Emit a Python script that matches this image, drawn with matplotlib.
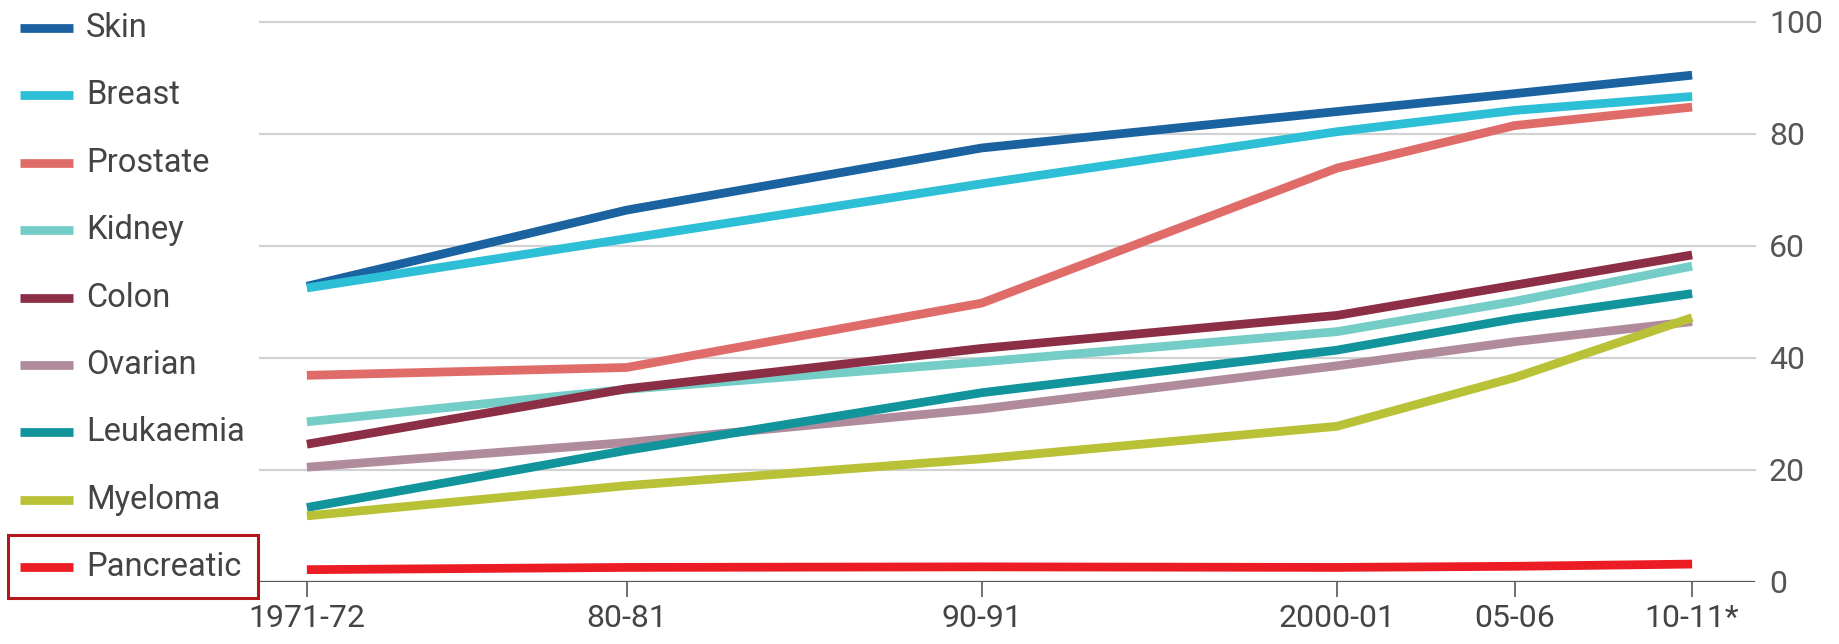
import matplotlib
matplotlib.use('Agg')
import matplotlib.pyplot as plt
from matplotlib.lines import Line2D
from matplotlib.patches import Rectangle

plt.rcParams['font.family'] = ['Roboto', 'DejaVu Sans']

# survival rates (%) by period of diagnosis
years = [1971, 1980, 1990, 2000, 2005, 2010]
period_labels = ['1971-72', '80-81', '90-91', '2000-01', '05-06', '10-11*']

cancers = ['Skin', 'Breast', 'Prostate', 'Kidney', 'Colon',
           'Ovarian', 'Leukaemia', 'Myeloma', 'Pancreatic']
skin = [52.8, 66.4, 77.5, 84.0, 87.2, 90.5]
breast = [52.5, 61.3, 71.1, 80.4, 84.2, 86.7]
prostate = [36.9, 38.3, 49.8, 73.9, 81.5, 84.8]
kidney = [28.6, 34.4, 39.3, 44.7, 50.1, 56.4]
colon = [24.6, 34.5, 41.7, 47.6, 53.0, 58.4]
ovarian = [20.5, 24.9, 30.9, 38.6, 42.9, 46.5]
leukaemia = [13.3, 23.5, 33.8, 41.4, 47.0, 51.5]
myeloma = [11.8, 17.2, 22.0, 27.8, 36.5, 47.2]
pancreatic = [2.2, 2.6, 2.7, 2.6, 2.8, 3.2]
series = [skin, breast, prostate, kidney, colon,
          ovarian, leukaemia, myeloma, pancreatic]

colors = ['#1b62a0', '#2cbfd6', '#e06c6a', '#74cdc6', '#8c2f46',
          '#b08b9b', '#12949d', '#b9c136', '#ec1c24']

fig = plt.figure(figsize=(18.4, 6.44), dpi=100)
ax = fig.add_axes([0.1413, 0.0963, 0.8125, 0.8696])

for vals, c in zip(series, colors):
    ax.plot(years, vals, color=c, lw=6.3, solid_capstyle='butt',
            solid_joinstyle='round', zorder=3, clip_on=False)

ax.set_xlim(1969.68, 2011.77)
ax.set_ylim(0, 100)

# horizontal grid + dark baseline
for v in [20, 40, 60, 80, 100]:
    ax.axhline(v, color='#d2d2d2', lw=1.6, zorder=1, clip_on=False)
ax.axhline(0, color='#555555', lw=1.6, zorder=2)

for s in ax.spines.values():
    s.set_visible(False)

ax.set_xticks(years)
ax.set_xticklabels(period_labels)
ax.tick_params(axis='x', length=11, width=1.3, color='#666666', pad=5,
               labelsize=23, labelcolor='#444444')

ax.yaxis.tick_right()
ax.set_yticks([0, 20, 40, 60, 80, 100])
ax.tick_params(axis='y', length=0, pad=10, labelsize=23,
               labelcolor='#555555')

# legend on the left, one row per cancer
W, H = 1840.0, 644.0
row0 = 28
step = 67.4
for i, (name, c) in enumerate(zip(cancers, colors)):
    y = 1 - (row0 + i * step) / H
    fig.add_artist(Line2D([20 / W, 73 / W], [y, y], color=c, lw=6.3,
                          solid_capstyle='butt', transform=fig.transFigure))
    fig.text(86 / W, y, name, fontsize=23.5, color='#444444',
             va='center', ha='left')

# highlight box around the pancreatic entry
fig.add_artist(Rectangle((8 / W, 1 - 598 / H), 250 / W, 63 / H,
                         transform=fig.transFigure, fill=False,
                         edgecolor='#b3161c', lw=2.2))

plt.savefig('out.png', dpi=100)
